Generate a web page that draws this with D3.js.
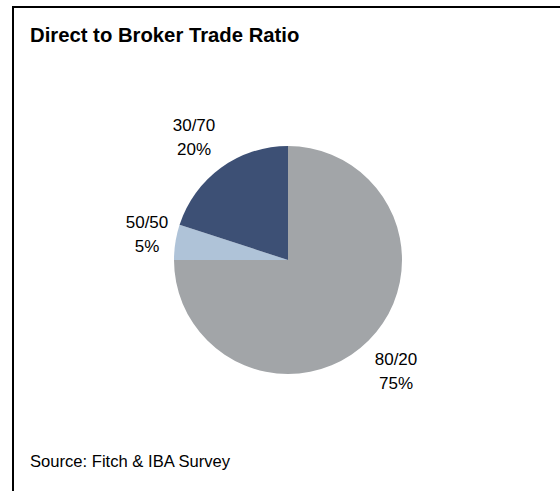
<!DOCTYPE html>
<html>
<head>
<meta charset="utf-8">
<script src="https://cdn.jsdelivr.net/npm/d3@7"></script>
<style>
  body { margin: 0; background: #fff; }
  text { font-family: "Liberation Sans", Arial, sans-serif; fill: #000; }
</style>
</head>
<body>
<svg id="chart" width="560" height="491"></svg>
<script>
// data
const categories = ["80/20", "50/50", "30/70"];
const shares = [75, 5, 20];
const colors = ["#a2a5a8", "#afc3d8", "#3d5075"];

const svg = d3.select("#chart");

// frame (only top + left visible)
svg.append("path")
    .attr("d", "M13,491 V7 H560")
    .attr("fill", "none")
    .attr("stroke", "#000")
    .attr("stroke-width", 2);

svg.append("text")
    .attr("x", 30)
    .attr("y", 42)
    .style("font-size", "20.3px")
    .style("font-weight", "bold")
    .text("Direct to Broker Trade Ratio");

const cx = 288, cy = 260, radius = 114;

const pie = d3.pie().sort(null).value(d => d.value);
const arc = d3.arc().innerRadius(0).outerRadius(radius);
const data = categories.map((c, i) => ({ name: c, value: shares[i], color: colors[i] }));

const g = svg.append("g").attr("transform", `translate(${cx},${cy})`);

g.selectAll("path.slice")
    .data(pie(data))
    .join("path")
    .attr("class", "slice")
    .attr("d", arc)
    .attr("fill", d => d.data.color);

// label positions (offset from centre)
const labelPos = {
    "80/20": [108, 105],
    "50/50": [-141, -32],
    "30/70": [-94, -129]
};

const labels = g.selectAll("g.lbl")
    .data(pie(data))
    .join("g")
    .attr("class", "lbl")
    .attr("transform", d => `translate(${labelPos[d.data.name]})`);

labels.append("text")
    .attr("text-anchor", "middle")
    .attr("y", 0)
    .style("font-size", "17px")
    .text(d => d.data.name);

labels.append("text")
    .attr("text-anchor", "middle")
    .attr("y", 24)
    .style("font-size", "17px")
    .text(d => d.data.value + "%");

svg.append("text")
    .attr("x", 30)
    .attr("y", 467)
    .style("font-size", "16.6px")
    .text("Source: Fitch & IBA Survey");
</script>
</body>
</html>
